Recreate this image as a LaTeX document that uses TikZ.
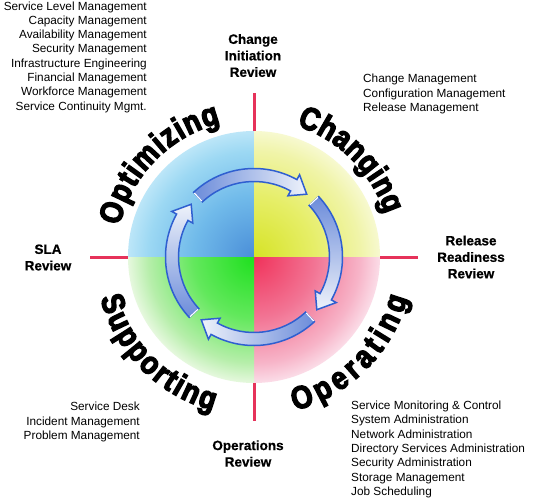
\documentclass[tikz,border=0pt]{standalone}
\usepackage{fontspec}
\setmainfont{Liberation Sans}
\newfontfamily\bigfont{Liberation Sans Bold}[FakeStretch=0.86,FakeBold=4]
\newfontfamily\labfont{Liberation Sans Bold}[FakeBold=0.6]
\usetikzlibrary{decorations.text}
\newcommand\bigword{\bigfont\fontsize{32}{32}\selectfont}

\definecolor{tlA}{HTML}{4A8ED8}
\definecolor{tlB}{HTML}{70BAEA}
\definecolor{tlC}{HTML}{9CD8F3}
\definecolor{tlD}{HTML}{BCE6F8}
\definecolor{trA}{HTML}{D6E326}
\definecolor{trB}{HTML}{E6EE68}
\definecolor{trC}{HTML}{F0F4A8}
\definecolor{trD}{HTML}{F7F9D0}
\definecolor{brA}{HTML}{F0325A}
\definecolor{brB}{HTML}{F27494}
\definecolor{brC}{HTML}{F7B4C8}
\definecolor{brD}{HTML}{FBDDE8}
\definecolor{blA}{HTML}{1EE01E}
\definecolor{blB}{HTML}{62E85C}
\definecolor{blC}{HTML}{B6EEAA}
\definecolor{blD}{HTML}{E6F8DE}
\definecolor{divred}{HTML}{E6325A}
\definecolor{arrowblue}{HTML}{2F5FD0}
\definecolor{arrowtail}{HTML}{6C8CDA}
\definecolor{arrowhead}{HTML}{EEF2FA}

\pgfdeclareradialshading{shTL}{\pgfpointorigin}{color(0bp)=(tlA); color(12bp)=(tlB); color(21bp)=(tlC); color(25bp)=(tlD); color(50bp)=(tlD)}
\pgfdeclareradialshading{shTR}{\pgfpointorigin}{color(0bp)=(trA); color(12bp)=(trB); color(21bp)=(trC); color(25bp)=(trD); color(50bp)=(trD)}
\pgfdeclareradialshading{shBR}{\pgfpointorigin}{color(0bp)=(brA); color(12bp)=(brB); color(21bp)=(brC); color(25bp)=(brD); color(50bp)=(brD)}
\pgfdeclareradialshading{shBL}{\pgfpointorigin}{color(0bp)=(blA); color(12bp)=(blB); color(21bp)=(blC); color(25bp)=(blD); color(50bp)=(blD)}

\begin{document}
\begin{tikzpicture}[x=1pt,y=1pt,
  listtext/.style={inner sep=0pt, font=\fontsize{11.8}{14.3}\selectfont},
  revlabel/.style={inner sep=0pt, align=center, font=\labfont\fontsize{13.5}{16.5}\selectfont},
  divline/.style={draw=divred, line width=3pt},
  arrowstyle/.style={top color=arrowtail, bottom color=arrowhead, draw=arrowblue, line width=1.5pt, line join=miter},
  bigtext/.style={decorate, decoration={text along path, text align={fit to path}, text={|\bigword|#1}}}]
\useasboundingbox (-254,-244) rectangle (289,257);
\fill[white] (-254,-244) rectangle (289,257);

% quadrants
\begin{scope}
  \clip (0,0) -- (0,130) -- (-130,130) -- (-130,0) -- cycle;
  \shade[shading=shTL] (0,0) circle (126pt);
\end{scope}
\begin{scope}
  \clip (0,0) -- (0,130) -- (130,130) -- (130,0) -- cycle;
  \shade[shading=shTR] (0,0) circle (126pt);
\end{scope}
\begin{scope}
  \clip (0,0) -- (0,-130) -- (130,-130) -- (130,0) -- cycle;
  \shade[shading=shBR] (0,0) circle (126pt);
\end{scope}
\begin{scope}
  \clip (0,0) -- (0,-130) -- (-130,-130) -- (-130,0) -- cycle;
  \shade[shading=shBL] (0,0) circle (126pt);
\end{scope}

% divider lines
\foreach \a/\n in {90/top,0/right,-90/bottom,180/left}{
  \coordinate (in\n) at (\a:126);
  \coordinate (out\n) at (\a:164);
  \draw[divline] (in\n) -- (out\n);
}

% cycle arrows
\foreach \k in {0,1,2,3}{
  \pgfmathsetmacro\angA{133-90*\k}
  \pgfmathsetmacro\angB{61-90*\k}
  \pgfmathsetmacro\angC{50-90*\k}
  \pgfmathsetmacro\angS{90-90*\k}
  \shadedraw[arrowstyle, shading angle=\angS]
    (\angA:88.5) arc[start angle=\angA, end angle=\angB, radius=88.5pt]
    -- (\angB:94) -- (\angC:82) -- (\angB:70) -- (\angB:75.5)
    arc[start angle=\angB, end angle=\angA, radius=75.5pt] -- cycle;
  \draw[white, line width=1.2pt] (\angA:87.5) -- (\angA:76.5);
}

% big curved words
\path[bigtext=Optimizing] (167:138) arc[start angle=167, end angle=104, radius=138pt];
\path[bigtext=Changing] (72:138) arc[start angle=72, end angle=18, radius=138pt];
\path[bigtext=Operating] (-75:159) arc[start angle=-75, end angle=-15, radius=159pt];
\path[bigtext=Supporting] (195:159) arc[start angle=195, end angle=255, radius=159pt];

% review labels
\node[revlabel] (cir) at (-1,201.5) {Change\\Initiation\\Review};
\node[revlabel] (sla) at (-206,-0.5) {SLA\\Review};
\node[revlabel] (rrr) at (217,0) {Release\\Readiness\\Review};
\node[revlabel] (opr) at (-6,-196.5) {Operations\\Review};

% process lists
\node[listtext, align=right, anchor=east] (optlist) at (-107,200)
  {Service Level Management\\Capacity Management\\Availability Management\\Security Management\\Infrastructure Engineering\\Financial Management\\Workforce Management\\Service Continuity Mgmt.};
\node[listtext, align=left, anchor=west] (chglist) at (109,163)
  {Change Management\\Configuration Management\\Release Management};
\node[listtext, align=right, anchor=east] (suplist) at (-114,-165)
  {Service Desk\\Incident Management\\Problem Management};
\node[listtext, align=left, anchor=west] (oplist) at (97,-192.5)
  {Service Monitoring \& Control\\System Administration\\Network Administration\\Directory Services Administration\\Security Administration\\Storage Management\\Job Scheduling};
\end{tikzpicture}
\end{document}
